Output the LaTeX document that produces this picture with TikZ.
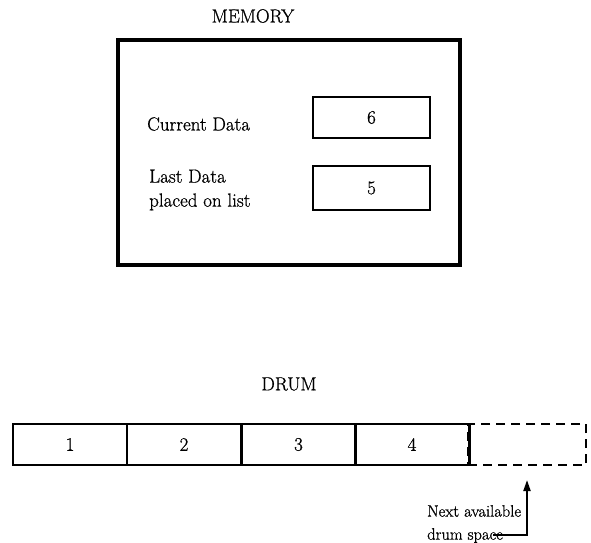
\documentclass[tikz,border=0pt]{standalone}
\usepackage{fontspec}
\usepackage{tikz}
\usetikzlibrary{arrows.meta,positioning}
\newfontfamily\printfont{Latin Modern Roman}[FakeBold=0.8]

\begin{document}
\begin{tikzpicture}[
    x=1pt, y=-1pt,
    every node/.style={font=\printfont\fontsize{19}{24}\selectfont, inner sep=0pt},
    membox/.style={draw, line width=3.2pt, minimum width=342, minimum height=225},
    cellbox/.style={draw, line width=1.6pt, minimum width=117, minimum height=#1},
    drumcell/.style={draw, line width=2pt, minimum width=114, minimum height=41},
    freecell/.style={draw, line width=2pt, dash pattern=on 9pt off 6pt, minimum width=118, minimum height=41},
    arrow/.style={-{Triangle[length=11pt, width=7pt]}, line width=2pt}
]
\useasboundingbox (0,0) rectangle (591,542);

% Memory
\node (memtitle) at (253,16) {MEMORY};
\node[membox] (mem) at (289,152.5) {};
\node[anchor=west] (curlabel) at (147,124) {Current Data};
\node[cellbox=41] (curcell) at (371.5,117.5) {6};
\node[anchor=west, align=left] (lastlabel) at (149,190) {Last Data\\placed on list};
\node[cellbox=44] (lastcell) at (371.5,188) {5};

% Drum
\node (drumtitle) at (289,384) {DRUM};
\node[drumcell] (d1) at (70,444.5) {1};
\node[drumcell] (d2) at (184,444.5) {2};
\node[drumcell] (d3) at (298.5,444.5) {3};
\node[drumcell] (d4) at (412,444.5) {4};
\node[freecell] (d5) at (527,444.5) {};
\draw[line width=2pt] (d4.north east) -- (d4.south east);

% Next available space
\node[anchor=west, align=left, font=\printfont\fontsize{16.5}{23}\selectfont] (note) at (427,524) {Next available\\drum space};
\coordinate (noteend) at (493,535);
\draw[arrow, shorten >=14pt] (noteend) -| (d5.south);

\end{tikzpicture}
\end{document}
